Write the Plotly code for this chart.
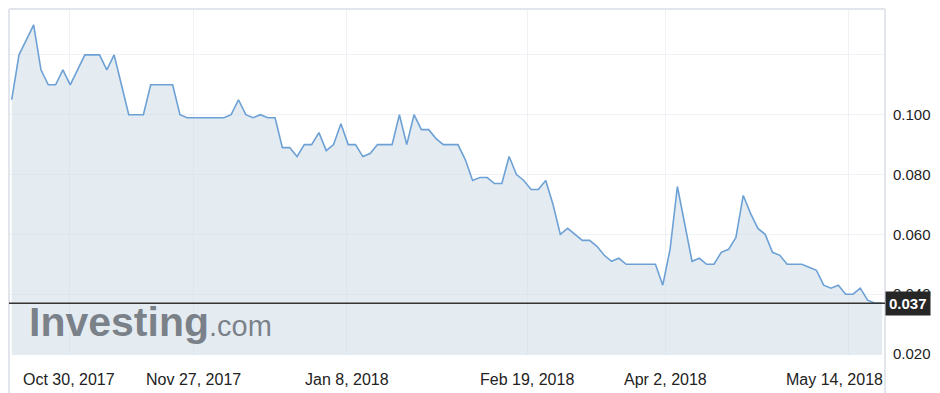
import plotly.graph_objects as go

# ---- data ----
prices = [
    0.105, 0.12, 0.125, 0.13, 0.115, 0.11, 0.11, 0.115, 0.11, 0.115,
    0.12, 0.12, 0.12, 0.115, 0.12, 0.11, 0.10, 0.10, 0.10, 0.11,
    0.11, 0.11, 0.11, 0.10, 0.099, 0.099, 0.099, 0.099, 0.099, 0.099,
    0.10, 0.105, 0.10, 0.099, 0.10, 0.099, 0.099, 0.089, 0.089, 0.086,
    0.09, 0.09, 0.094, 0.088, 0.09, 0.097, 0.09, 0.09, 0.086, 0.087,
    0.09, 0.09, 0.09, 0.10, 0.09, 0.10, 0.095, 0.095, 0.092, 0.09,
    0.09, 0.09, 0.085, 0.078, 0.079, 0.079, 0.077, 0.077, 0.086, 0.08,
    0.078, 0.075, 0.075, 0.078, 0.07, 0.06, 0.062, 0.06, 0.058, 0.058,
    0.056, 0.053, 0.051, 0.052, 0.05, 0.05, 0.05, 0.05, 0.05, 0.043,
    0.055, 0.076, 0.063, 0.051, 0.052, 0.05, 0.05, 0.054, 0.055, 0.059,
    0.073, 0.067, 0.062, 0.06, 0.054, 0.053, 0.05, 0.05, 0.05, 0.049,
    0.048, 0.043, 0.042, 0.043, 0.04, 0.04, 0.042, 0.038, 0.037, 0.037,
]
sessions = list(range(len(prices)))

date_tick_pos = [7.87, 24.83, 45.8, 70.5, 89.4, 114.4]
date_tick_labels = ["Oct 30, 2017", "Nov 27, 2017", "Jan 8, 2018",
                    "Feb 19, 2018", "Apr 2, 2018", "May 14, 2018"]

price_tick_vals = [0.02, 0.04, 0.06, 0.08, 0.10, 0.12]
price_tick_text = ["0.020", "0.040", "0.060", "0.080", "0.100", ""]

last_price = 0.037
last_price_text = "0.037"

# ---- figure ----
FONT = "Liberation Sans, Arial, Helvetica, sans-serif"
x_range = [-0.37, 119.38]
y_range = [0.019667, 0.135333]

fig = go.Figure()
fig.add_trace(go.Scatter(
    x=sessions, y=prices, mode="lines",
    line=dict(color="#6da1d5", width=1.6),
    fill="tozeroy", fillcolor="rgba(205,220,232,0.55)",
    hoverinfo="skip", showlegend=False,
))

fig.update_layout(
    width=940, height=393,
    margin=dict(l=9, r=55, t=9, b=38),
    paper_bgcolor="white", plot_bgcolor="white",
    font=dict(family=FONT, color="#222222"),
    xaxis=dict(
        range=x_range, tickvals=date_tick_pos, showticklabels=False,
        showgrid=True, gridcolor="rgba(185,198,214,0.22)", gridwidth=1,
        zeroline=False, showline=False, ticks="",
    ),
    yaxis=dict(
        range=y_range, side="right",
        tickvals=price_tick_vals, ticktext=price_tick_text,
        tickfont=dict(size=15, color="#222222", family=FONT),
        ticklabelstandoff=7,
        showgrid=True, gridcolor="rgba(185,198,214,0.22)", gridwidth=1,
        zeroline=False, showline=False, ticks="",
    ),
)

# frame
frame_color = "#e2e5ec"
fig.add_shape(type="line", xref="paper", yref="paper", x0=0, x1=1, y0=1, y1=1,
              line=dict(color=frame_color, width=2))
fig.add_shape(type="line", xref="paper", yref="paper", x0=0, x1=0, y0=-0.2, y1=1,
              line=dict(color=frame_color, width=2))
fig.add_shape(type="line", xref="paper", yref="paper", x0=1, x1=1, y0=-0.2, y1=1,
              line=dict(color=frame_color, width=2))

# watermark
fig.add_annotation(
    xref="paper", yref="paper", x=0.021, y=0.095, xanchor="left", yanchor="middle",
    text="<b>Investing</b><span style='font-size:29px;font-weight:normal'>.com</span>",
    showarrow=False, font=dict(size=41, color="rgba(108,114,123,0.88)", family=FONT),
)

# last price line and label
fig.add_shape(type="line", xref="paper", yref="y", x0=0, x1=1,
              y0=last_price, y1=last_price, line=dict(color="#333333", width=1.5))
fig.add_annotation(
    xref="paper", yref="y", x=1, y=last_price, xanchor="left", yanchor="middle",
    text=f"<b>{last_price_text}</b>", showarrow=False,
    font=dict(size=15, color="white", family=FONT),
    bgcolor="#262626", borderpad=3,
)

# date labels
for i, (pos, lab) in enumerate(zip(date_tick_pos, date_tick_labels)):
    if i == len(date_tick_pos) - 1:
        fig.add_annotation(xref="paper", yref="paper", x=1, y=-0.072,
                           xanchor="right", yanchor="middle", text=lab,
                           showarrow=False, font=dict(size=16, color="#222222", family=FONT))
    else:
        fig.add_annotation(xref="x", yref="paper", x=pos, y=-0.072,
                           xanchor="center", yanchor="middle", text=lab,
                           showarrow=False, font=dict(size=16, color="#222222", family=FONT))

fig.write_html("out.html")
